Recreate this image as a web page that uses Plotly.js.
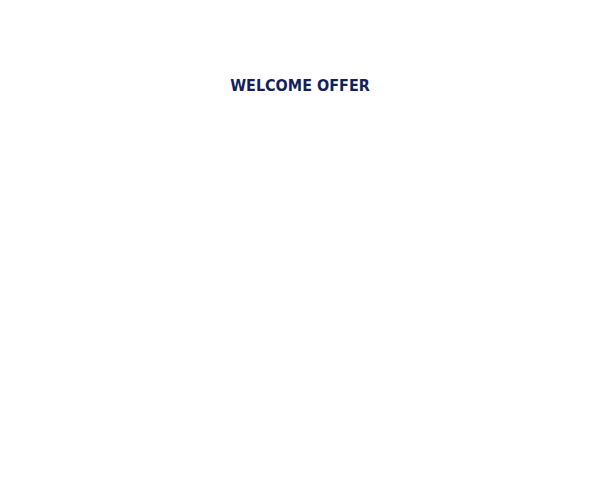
<!DOCTYPE html>
<html>
<head>
<meta charset="utf-8">
<script src="https://cdn.plot.ly/plotly-3.0.1.min.js"></script>
<style>
  body { margin: 0; background: #fff; }
  #chart { width: 600px; height: 500px; }
</style>
</head>
<body>
<div id="chart"></div>
<script>
// Chart has no visible data, only the title
var categories = [];
var values = [];
var chartTitle = "WELCOME OFFER";

var trace = {
  x: categories,
  y: values,
  type: 'bar',
  marker: { color: '#141f5c' }
};

var layout = {
  width: 600,
  height: 500,
  paper_bgcolor: '#ffffff',
  plot_bgcolor: '#ffffff',
  title: {
    text: '<b>' + chartTitle + '</b>',
    x: 0.5,
    xanchor: 'center',
    y: 0.83,
    yanchor: 'middle',
    font: { family: 'DejaVu Sans Condensed', size: 16, color: '#141f5c' }
  },
  xaxis: { visible: false },
  yaxis: { visible: false },
  showlegend: false,
  margin: { l: 40, r: 40, t: 120, b: 40 }
};

Plotly.newPlot('chart', [trace], layout, { displayModeBar: false, staticPlot: true });
</script>
</body>
</html>
